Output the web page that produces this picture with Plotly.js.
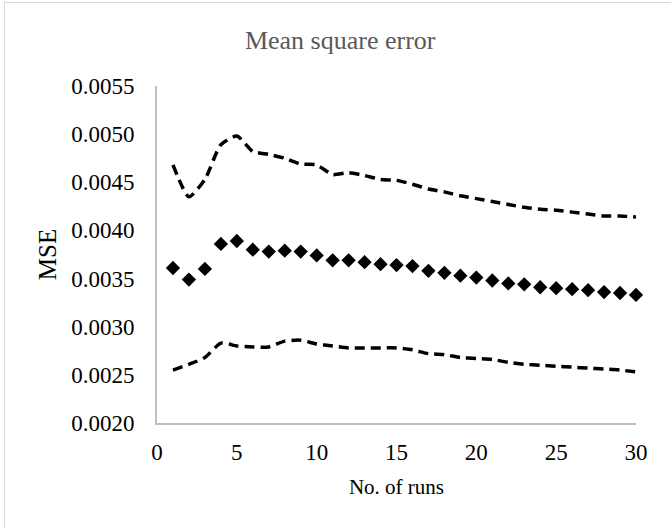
<!DOCTYPE html>
<html>
<head>
<meta charset="utf-8">
<script src="https://cdn.plot.ly/plotly-3.0.1.min.js"></script>
<style>
  html, body { margin: 0; padding: 0; background: #ffffff; overflow: hidden; }
  #chart { width: 671px; height: 528px; position: absolute; left: 0; top: 0; }
  #frame { position: absolute; left: 4px; top: 2px; width: 700px; height: 600px; border: 1px solid #d9d9d9; pointer-events: none; }
</style>
</head>
<body>
<div id="chart"></div>
<div id="frame"></div>
<script>
// Data
const runs = [1,2,3,4,5,6,7,8,9,10,11,12,13,14,15,16,17,18,19,20,21,22,23,24,25,26,27,28,29,30];
const mseMean = [0.00361,0.00349,0.00360,0.00386,0.00389,0.00380,0.00378,0.00379,0.00378,0.00374,
                 0.00369,0.00369,0.00367,0.00365,0.00364,0.00363,0.00358,0.00356,0.00353,0.00351,
                 0.00348,0.00345,0.00344,0.00341,0.00340,0.00339,0.00338,0.00336,0.00335,0.00333];
const mseUpper = [0.00468,0.00435,0.00453,0.00489,0.00498,0.00482,0.00479,0.00475,0.00469,0.00468,
                  0.00458,0.00460,0.00457,0.00453,0.00452,0.00448,0.00443,0.00440,0.00436,0.00433,
                  0.00430,0.00427,0.00424,0.00422,0.00421,0.00419,0.00417,0.00415,0.00415,0.00414];
const mseLower = [0.00255,0.00261,0.00268,0.00283,0.00280,0.00279,0.00279,0.00285,0.00286,0.00282,
                  0.00280,0.00278,0.00278,0.00278,0.00278,0.00276,0.00272,0.00271,0.00268,0.00267,
                  0.00266,0.00263,0.00261,0.00260,0.00259,0.00258,0.00257,0.00256,0.00255,0.00253];
const yTicks = [0.0020,0.0025,0.0030,0.0035,0.0040,0.0045,0.0050,0.0055];
const yTickText = ['0.0020','0.0025','0.0030','0.0035','0.0040','0.0045','0.0050','0.0055'];
const xTicks = [0,5,10,15,20,25,30];

const serif = 'Liberation Serif, Times New Roman, serif';
const dashLine = {color: '#000000', width: 3.5, dash: '10px,6px', shape: 'spline', smoothing: 0.6};

const traces = [
  {x: runs, y: mseUpper, type: 'scatter', mode: 'lines', line: dashLine, hoverinfo: 'skip', cliponaxis: false},
  {x: runs, y: mseLower, type: 'scatter', mode: 'lines', line: dashLine, hoverinfo: 'skip', cliponaxis: false},
  {x: runs, y: mseMean, type: 'scatter', mode: 'markers',
   marker: {symbol: 'diamond', size: 11, color: '#000000', line: {width: 0}}, cliponaxis: false}
];

const layout = {
  width: 671, height: 528,
  margin: {l: 157, r: 35, t: 86, b: 105},
  paper_bgcolor: '#ffffff', plot_bgcolor: '#ffffff',
  showlegend: false,
  font: {family: serif, color: '#000000'},
  title: {text: 'Mean square error', font: {family: serif, size: 26, color: '#595959'},
          x: 0.507, xref: 'container', y: 0.925, yref: 'container', yanchor: 'middle'},
  xaxis: {
    range: [0, 30], tickvals: xTicks, ticks: '', showgrid: false, zeroline: false,
    showline: true, linecolor: '#bfbfbf', linewidth: 2,
    tickfont: {family: serif, size: 23, color: '#000000'}, ticklabelstandoff: 7,
    title: {text: 'No. of runs', font: {family: serif, size: 21, color: '#000000'}, standoff: 16}
  },
  yaxis: {
    range: [0.0020, 0.0055], tickvals: yTicks, ticktext: yTickText, ticks: '', showgrid: false, zeroline: false,
    showline: true, linecolor: '#bfbfbf', linewidth: 2,
    tickfont: {family: serif, size: 23, color: '#000000'}, ticklabelstandoff: 16,
    title: {text: 'MSE', font: {family: serif, size: 25, color: '#000000'}, standoff: 7}
  }
};

Plotly.newPlot('chart', traces, layout, {staticPlot: true, displayModeBar: false});
</script>
</body>
</html>
